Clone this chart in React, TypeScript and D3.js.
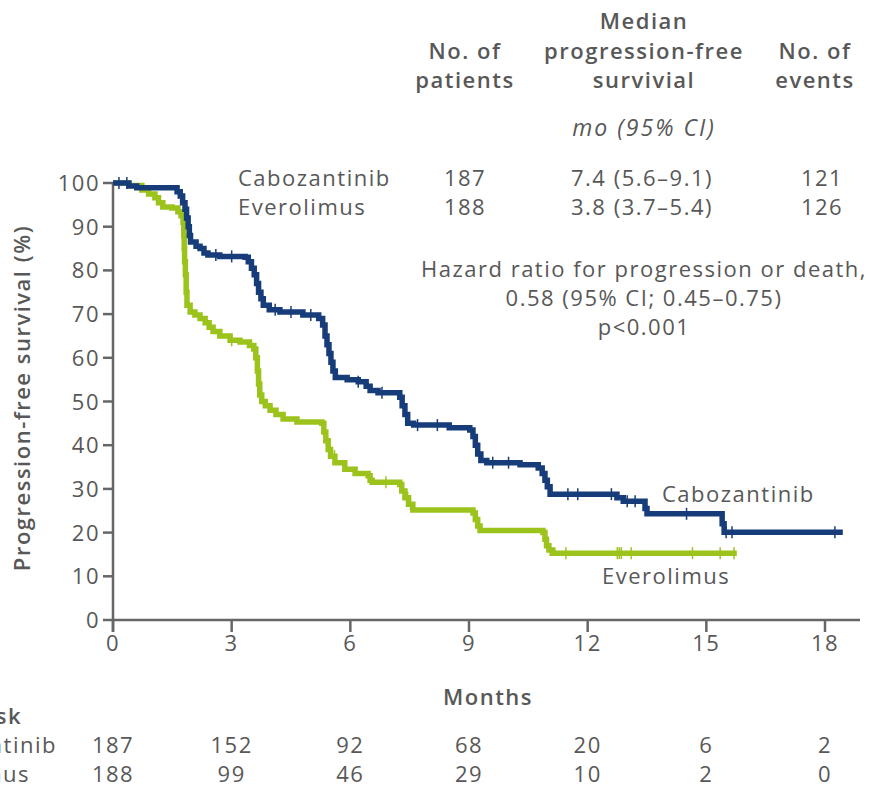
import React from "react";
import * as d3 from "d3";

// Kaplan-Meier steps: [month, % progression-free]
const caboSteps: [number, number][] = [
  [0, 100], [0.4, 99.3], [0.6, 98.9], [1.62, 98], [1.7, 97], [1.76, 95.5], [1.82, 94], [1.86, 92],
  [1.9, 90], [1.93, 88], [1.96, 86.5], [2.1, 85.5], [2.2, 85], [2.3, 84], [2.4, 83.5], [2.7, 83.2],
  [3.34, 83], [3.42, 82], [3.5, 80.5], [3.57, 79], [3.63, 77], [3.68, 75], [3.74, 73.5], [3.8, 72],
  [3.95, 71], [4.22, 70.5], [4.8, 69.8], [5.2, 69], [5.3, 67.5], [5.36, 65], [5.41, 63], [5.46, 61],
  [5.51, 59], [5.56, 57], [5.62, 55.5], [5.92, 55], [6.2, 54.5], [6.4, 53.5], [6.5, 52.5], [6.7, 52],
  [7.25, 51], [7.31, 49], [7.38, 47], [7.45, 45], [7.6, 44.6], [8.5, 44], [9.02, 43.5], [9.1, 42],
  [9.16, 40], [9.22, 38], [9.3, 36.5], [9.45, 36], [10.29, 35.5], [10.75, 34.8], [10.85, 33.5],
  [10.92, 32], [10.98, 30.5], [11.05, 28.8], [12.74, 28], [12.9, 27.2], [13.45, 25.5], [13.5, 24.3],
  [15.4, 22], [15.45, 20.1], [18.45, 20.1],
];

const everoSteps: [number, number][] = [
  [0, 100], [0.4, 99.4], [0.73, 98.4], [0.9, 97.5], [1.06, 96.6], [1.15, 95.5], [1.26, 94.5],
  [1.49, 94.3], [1.64, 93.4], [1.72, 92.5], [1.77, 91], [1.79, 88], [1.8, 85], [1.81, 82],
  [1.83, 79], [1.85, 75], [1.87, 72], [1.95, 70.5], [2.07, 69.8], [2.2, 69], [2.33, 68], [2.43, 67],
  [2.53, 66], [2.7, 65], [2.96, 64], [3.21, 63.6], [3.45, 62.8], [3.56, 62], [3.61, 60], [3.65, 57],
  [3.68, 54], [3.71, 51.5], [3.76, 50], [3.85, 49], [3.97, 48], [4.12, 47], [4.3, 46],
  [4.65, 45.3], [5.28, 45], [5.33, 43], [5.38, 41], [5.44, 39], [5.5, 37.5], [5.61, 36],
  [5.86, 34.5], [6.12, 33.5], [6.45, 33], [6.5, 32], [6.55, 31.5], [7.25, 31], [7.3, 29.5],
  [7.38, 28], [7.47, 26.5], [7.58, 25.2], [9.1, 24.5], [9.16, 23], [9.22, 21.5], [9.28, 20.5],
  [10.87, 20], [10.92, 18.5], [10.96, 17], [11.02, 16], [11.12, 15.3], [15.77, 15.3],
];

const caboCensor = [0.15, 0.35, 2.6, 3.0, 4.1, 4.5, 5.0, 6.2, 6.8, 7.7, 8.2, 9.6, 10.0, 11.5, 11.75,
  12.6, 13.0, 13.2, 14.5, 15.5, 15.65, 18.25];
const everoCensor = [1.8, 1.84, 3.0, 3.66, 5.6, 6.9, 7.45, 7.52, 10.95, 11.05, 11.45, 12.75, 12.8,
  12.85, 13.1, 14.65, 15.35, 15.7];

const xTicks = [0, 3, 6, 9, 12, 15, 18];
const yTicks = [0, 10, 20, 30, 40, 50, 60, 70, 80, 90, 100];
const caboAtRisk = [187, 152, 92, 68, 20, 6, 2];
const everoAtRisk = [188, 99, 46, 29, 10, 2, 0];

const headerCols = [
  { cx: 465, lines: ["No. of", "patients"] },
  { cx: 644, lines: ["Median", "progression-free", "survivial"] },
  { cx: 815, lines: ["No. of", "events"] },
];
const summaryRows = [
  { name: "Cabozantinib", n: "187", median: "7.4 (5.6–9.1)", events: "121" },
  { name: "Everolimus", n: "188", median: "3.8 (3.7–5.4)", events: "126" },
];
const hazardLines = ["Hazard ratio for progression or death,", "0.58 (95% CI; 0.45–0.75)", "p<0.001"];

const BLUE = "#173c7a";
const GREEN = "#9cc31c";
const TEXT = "#585858";
const AXIS = "#666";

const App = () => {
  const x = d3.scaleLinear().domain([0, 18]).range([113, 825]);
  const y = d3.scaleLinear().domain([0, 100]).range([620, 183]);

  const line = d3
    .line<[number, number]>()
    .x((d) => x(d[0]))
    .y((d) => y(d[1]))
    .curve(d3.curveStepAfter);

  // survival value at time t (for placing censor ticks)
  const valueAt = (steps: [number, number][], t: number) => {
    let v = steps[0][1];
    for (const s of steps) if (s[0] <= t) v = s[1];
    return v;
  };

  const font = "'Open Sans', sans-serif";

  const curve = (steps: [number, number][], censor: number[], color: string) => (
    <g>
      <path d={line(steps) || ""} fill="none" stroke={color} strokeWidth={5.5} />
      {censor.map((t, i) => (
        <line
          key={i}
          x1={x(t)}
          x2={x(t)}
          y1={y(valueAt(steps, t)) - 6}
          y2={y(valueAt(steps, t)) + 6}
          stroke={color}
          strokeWidth={1.5}
        />
      ))}
    </g>
  );

  return (
    <svg width={871} height={785} style={{ display: "block", position: "absolute", left: 0, top: 0 }}
      fontFamily={font} fill={TEXT} fontSize={22} letterSpacing={1.5}>
      {/* header table */}
      {headerCols.map((c) =>
        c.lines.map((l, i) => (
          <text key={c.cx + l} x={c.cx} y={88 - (c.lines.length - 1 - i) * 29.5} textAnchor="middle"
            fontWeight={600}>
            {l}
          </text>
        ))
      )}
      <text x={644} y={136} textAnchor="middle" fontSize={23} letterSpacing={2} fontStyle="italic">
        mo (95% CI)
      </text>
      {summaryRows.map((r, i) => (
        <g key={r.name}>
          <text x={238} y={186 + i * 29}>{r.name}</text>
          <text x={465} y={186 + i * 29} textAnchor="middle">{r.n}</text>
          <text x={642} y={186 + i * 29} textAnchor="middle">{r.median}</text>
          <text x={822} y={186 + i * 29} textAnchor="middle">{r.events}</text>
        </g>
      ))}
      {hazardLines.map((l, i) => (
        <text key={l} x={644} y={277 + i * 29} textAnchor="middle">{l}</text>
      ))}

      {/* axes */}
      <line x1={x(0)} x2={x(0)} y1={y(100)} y2={632} stroke={AXIS} strokeWidth={2.5} />
      <line x1={x(0)} x2={860} y1={y(0)} y2={y(0)} stroke={AXIS} strokeWidth={2.5} />
      {yTicks.map((t) => (
        <g key={t}>
          <line x1={x(0) - 10} x2={x(0)} y1={y(t)} y2={y(t)} stroke={AXIS} strokeWidth={2.5} />
          <text x={x(0) - 13} y={y(t) + 8} textAnchor="end">{t}</text>
        </g>
      ))}
      {xTicks.map((t) => (
        <g key={t}>
          <line x1={x(t)} x2={x(t)} y1={y(0)} y2={632} stroke={AXIS} strokeWidth={2.5} />
          <text x={x(t)} y={651} textAnchor="middle">{t}</text>
        </g>
      ))}
      <text transform="translate(30,398) rotate(-90)" textAnchor="middle" fontWeight={600}>
        Progression-free survival (%)
      </text>
      <text x={488} y={705} textAnchor="middle" fontWeight={600}>Months</text>

      {/* curves */}
      {curve(everoSteps, everoCensor, GREEN)}
      {curve(caboSteps, caboCensor, BLUE)}
      <text x={662} y={502}>Cabozantinib</text>
      <text x={602} y={584}>Everolimus</text>

      {/* number at risk */}
      <text x={22} y={724} textAnchor="end" fontWeight={600}>No. at Risk</text>
      <text x={57} y={753} textAnchor="end">Cabozantinib</text>
      <text x={30} y={782} textAnchor="end">Everolimus</text>
      {xTicks.map((t, i) => (
        <g key={t}>
          <text x={x(t)} y={753} textAnchor="middle">{caboAtRisk[i]}</text>
          <text x={x(t)} y={782} textAnchor="middle">{everoAtRisk[i]}</text>
        </g>
      ))}
    </svg>
  );
};

export default App;
